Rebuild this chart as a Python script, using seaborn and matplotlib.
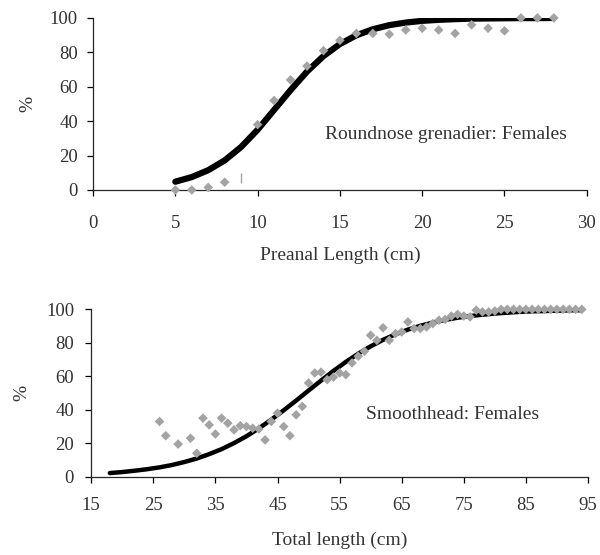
"""
Maturity ogives: roundnose grenadier and smoothhead females
"""
import numpy as np
import pandas as pd
import matplotlib
matplotlib.use("Agg")
import matplotlib.pyplot as plt
import seaborn as sns

# --- Roundnose grenadier (preanal length, cm) ---
rng_len = [5, 6, 7, 8, 10, 11, 12, 13, 14, 15, 16, 17, 18, 19, 20,
           21, 22, 23, 24, 25, 26, 27, 28]
rng_pct = [0, 0, 1.5, 4.5, 38, 52, 64, 72, 81, 87, 91, 91, 90.5, 93, 94,
           93, 91, 96, 94, 92.5, 100, 100, 100]
rng_dash_len = [9]
rng_dash_pct = [7]

rng_fit_len = [5, 6, 7, 8, 9, 10, 11, 12, 13, 14, 15, 16, 17, 18, 19, 20,
               21, 22, 23, 24, 25, 26, 27, 28]
rng_fit_pct = [4.8, 7.5, 11.5, 17.2, 25.0, 35.0, 46.5, 58.0, 68.8, 77.8, 84.8, 89.9,
               93.4, 95.8, 97.3, 98.3, 98.9, 99.3, 99.6, 99.7, 99.8, 99.9, 99.9, 100]

# --- Smoothhead (total length, cm) ---
sh_len = [26, 27, 29, 31, 32, 33, 34, 35, 36, 37, 38, 39, 40, 41, 42, 43, 44,
          45, 46, 47, 48, 49, 50, 51, 52, 53, 54, 55, 56, 57, 58, 59, 60, 61,
          62, 63, 64, 65, 66, 67, 68, 69, 70, 71, 72, 73, 74, 75, 76, 77, 78,
          79, 80, 81, 82, 83, 84, 85, 86, 87, 88, 89, 90, 91, 92, 93, 94]
sh_pct = [33, 24.5, 19.5, 23, 14, 35, 31, 25.5, 35, 32, 28, 30.5, 30, 29, 28.5, 22, 33,
          38, 30, 24.5, 37, 42, 56, 62, 62.5, 58, 59.5, 62, 61, 68, 72, 75, 84.5, 81.5,
          89, 81.5, 85.5, 86.5, 92.5, 88.5, 88.5, 89.5, 91.5, 93.5, 94, 96, 97, 96, 95.5, 99.5, 98.5,
          98.5, 99, 100, 100, 100, 100, 100, 100, 100, 100, 100, 100, 100, 100, 100, 100]

sh_fit_len = [18, 20, 22, 24, 26, 28, 30, 32, 34, 36, 38, 40, 42, 44, 46, 48, 50,
              52, 54, 56, 58, 60, 62, 64, 66, 68, 70, 72, 74, 76, 78, 80, 82, 84,
              86, 88, 90, 92, 94]
sh_fit_pct = [2.2, 2.8, 3.6, 4.5, 5.6, 7.0, 8.8, 10.9, 13.5, 16.5, 20.1, 24.2, 28.9,
              34.1, 39.7, 45.5, 51.5, 57.4, 63.2, 68.6, 73.5, 77.9, 81.8, 85.1, 87.9,
              90.2, 92.1, 93.7, 95.0, 96.0, 96.8, 97.5, 98.0, 98.5, 98.8, 99.0, 99.2,
              99.4, 99.5]

sns.set_style("ticks")
plt.rcParams["font.family"] = ["Liberation Serif", "DejaVu Serif"]
plt.rcParams["xtick.direction"] = "out"
plt.rcParams["ytick.direction"] = "out"

GREY = "#a3a3a3"
TXT = "#333333"

fig = plt.figure(figsize=(6.0, 5.55), dpi=100)
ax1 = fig.add_axes([0.155, 0.6577, 0.823, 0.31])
ax2 = fig.add_axes([0.152, 0.141, 0.828, 0.3016])

# top panel
sns.lineplot(x=rng_fit_len, y=rng_fit_pct, color="black", linewidth=4.5, ax=ax1)
sns.scatterplot(x=rng_len, y=rng_pct, color=GREY, marker="D", s=24,
                edgecolor="none", ax=ax1, clip_on=False, zorder=3)
ax1.plot(rng_dash_len, rng_dash_pct, marker="|", color=GREY, ms=7, ls="none")
ax1.set_xlim(0, 30)
ax1.set_ylim(0, 100)
ax1.set_xticks(range(0, 31, 5))
ax1.set_yticks(range(0, 101, 20))
ax1.set_xlabel("Preanal Length (cm)", fontsize=14, color=TXT, labelpad=11)
ax1.set_ylabel("%", fontsize=14, color=TXT, labelpad=10)
ax1.text(14.1, 32, "Roundnose grenadier: Females", fontsize=14, color=TXT, va="center")
ax1.tick_params(axis="x", pad=13.5)
ax1.tick_params(axis="y", pad=6.5)

# bottom panel
sns.lineplot(x=sh_fit_len, y=sh_fit_pct, color="black", linewidth=3.2, ax=ax2)
sns.scatterplot(x=sh_len, y=sh_pct, color=GREY, marker="D", s=24,
                edgecolor="none", ax=ax2, clip_on=False, zorder=3)
ax2.set_xlim(15, 95)
ax2.set_ylim(0, 100)
ax2.set_xticks(range(15, 96, 10))
ax2.set_yticks(range(0, 101, 20))
ax2.set_xlabel("Total length (cm)", fontsize=14, color=TXT, labelpad=13)
ax2.set_ylabel("%", fontsize=14, color=TXT, labelpad=11)
ax2.text(59.2, 37, "Smoothhead: Females", fontsize=14, color=TXT, va="center")
ax2.tick_params(axis="x", pad=10)
ax2.tick_params(axis="y", pad=8)

for ax in (ax1, ax2):
    sns.despine(ax=ax)
    ax.tick_params(labelsize=13.5, colors="black", labelcolor=TXT, length=4.3, width=0.9)
    for sp in ax.spines.values():
        sp.set_linewidth(0.9)

fig.savefig("out.png", dpi=100)
